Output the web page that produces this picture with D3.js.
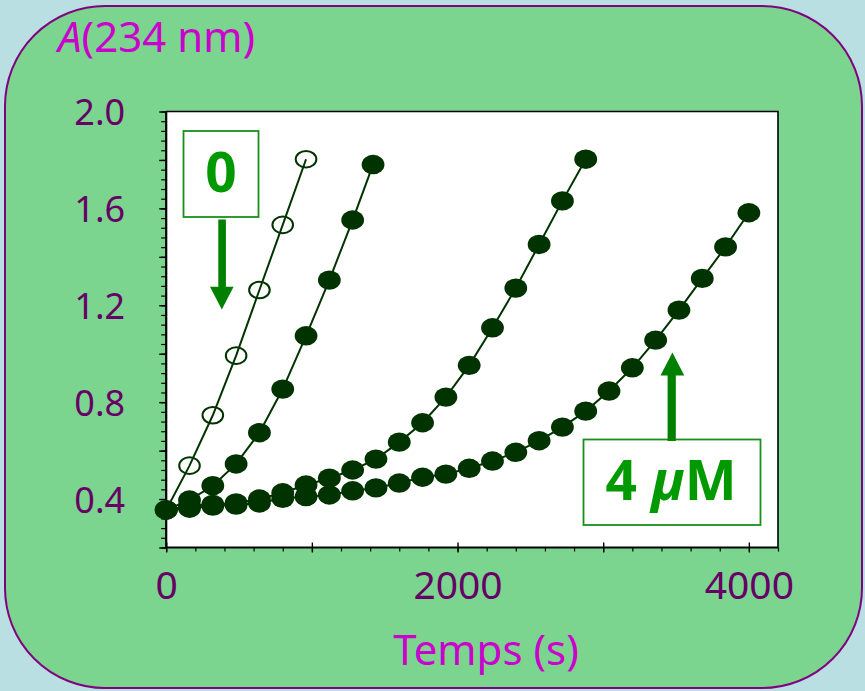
<!DOCTYPE html>
<html>
<head>
<meta charset="utf-8">
<script src="https://cdn.jsdelivr.net/npm/d3@7"></script>
<style>
  html, body { margin: 0; padding: 0; background: #b9dfe3; }
  svg { display: block; }
  text { font-family: "Noto Sans", "DejaVu Sans", sans-serif; }
</style>
</head>
<body>
<svg id="chart" width="865" height="691"></svg>
<script>
// ---- data ----
const seriesNames = ["0", "s2", "s3", "4 µM"];
const s1X = [0, 160, 320, 480, 640, 800, 960];
const s1Y = [0.355, 0.538, 0.746, 0.992, 1.263, 1.532, 1.803];
const s2X = [0, 160, 320, 480, 640, 800, 960, 1120, 1280, 1420];
const s2Y = [0.355, 0.396, 0.455, 0.545, 0.674, 0.854, 1.074, 1.304, 1.552, 1.781];
const s3X = [0, 160, 320, 480, 640, 800, 960, 1120, 1280, 1440, 1600, 1760, 1920, 2080, 2240, 2400, 2560, 2720, 2880];
const s3Y = [0.355, 0.372, 0.378, 0.384, 0.400, 0.426, 0.458, 0.486, 0.520, 0.565, 0.635, 0.715, 0.821, 0.952, 1.107, 1.271, 1.451, 1.631, 1.803];
const s4X = [0, 160, 320, 480, 640, 800, 960, 1120, 1280, 1440, 1600, 1760, 1920, 2080, 2240, 2400, 2560, 2720, 2880, 3040, 3200, 3360, 3520, 3680, 3840, 4000];
const s4Y = [0.355, 0.362, 0.371, 0.375, 0.384, 0.403, 0.410, 0.417, 0.434, 0.446, 0.466, 0.490, 0.503, 0.527, 0.557, 0.593, 0.641, 0.697, 0.763, 0.846, 0.942, 1.056, 1.180, 1.311, 1.441, 1.582];

const xTickLabels = [0, 2000, 4000];
const xMajorTicks = [0, 1000, 2000, 3000, 4000];
const yTickLabels = [0.4, 0.8, 1.2, 1.6, 2.0];
const yMajorTicks = [0.2, 0.4, 0.6, 0.8, 1.0, 1.2, 1.4, 1.6, 1.8, 2.0];

const titleY = "A(234 nm)";
const titleX = "Temps (s)";
const labelTop = "0";
const labelBottom = "4 µM";

// ---- layout ----
const svg = d3.select("#chart");
const W = 865, H = 691;
const L = 166.2, R = 778, T = 111.5, B = 547.5;

const x = d3.scaleLinear().domain([0, 4200]).range([L, R]);
const y = d3.scaleLinear().domain([0.2, 2.0]).range([B, T]);

// background panel
svg.append("rect").attr("x", 0).attr("y", 0).attr("width", W).attr("height", H).attr("fill", "#b9dfe3");
svg.append("rect")
  .attr("x", 5).attr("y", 6).attr("width", 857).attr("height", 682)
  .attr("rx", 100).attr("ry", 100)
  .attr("fill", "#7bd58f").attr("stroke", "#800080").attr("stroke-width", 2);

// plot area
svg.append("rect").attr("x", L).attr("y", T).attr("width", R - L).attr("height", B - T)
  .attr("fill", "#ffffff");
// top & right frame
svg.append("path")
  .attr("d", `M${L},${T}H${R}V${B}`)
  .attr("fill", "none").attr("stroke", "#000").attr("stroke-width", 1.6);

// ---- axes ----
// x minor ticks
const xMinor = d3.range(0, 4201, 200);
const gxMinor = svg.append("g").attr("transform", `translate(0,${B})`)
  .call(d3.axisBottom(x).tickValues(xMinor).tickSize(4).tickFormat(""));
gxMinor.select(".domain").remove();
gxMinor.selectAll("line").attr("stroke", "#000").attr("stroke-width", 1.2);

const gxMajor = svg.append("g").attr("transform", `translate(0,${B})`)
  .call(d3.axisBottom(x).tickValues(xMajorTicks).tickSize(5).tickFormat(""));
gxMajor.select(".domain").remove();
gxMajor.selectAll("line").attr("y1", -5).attr("stroke", "#000").attr("stroke-width", 1.4);

const gxLab = svg.append("g").attr("transform", `translate(0,${B})`)
  .call(d3.axisBottom(x).tickValues(xTickLabels).tickSize(0).tickPadding(24).tickFormat(d3.format("d")));
gxLab.select(".domain").remove();
gxLab.selectAll("text").attr("font-size", 39).attr("fill", "#660066")
  .attr("font-family", '"Noto Sans", sans-serif').attr("dy", "0.71em");

// y minor ticks
const yMinor = d3.range(0.2, 2.0001, 0.04);
const gyMinor = svg.append("g").attr("transform", `translate(${L},0)`)
  .call(d3.axisLeft(y).tickValues(yMinor).tickSize(5).tickFormat(""));
gyMinor.select(".domain").remove();
gyMinor.selectAll("line").attr("stroke", "#000").attr("stroke-width", 1.2);

const gyMajor = svg.append("g").attr("transform", `translate(${L},0)`)
  .call(d3.axisLeft(y).tickValues(yMajorTicks).tickSize(7).tickFormat(""));
gyMajor.select(".domain").remove();
gyMajor.selectAll("line").attr("stroke", "#000").attr("stroke-width", 1.4);

const gyLab = svg.append("g").attr("transform", `translate(${L},0)`)
  .call(d3.axisLeft(y).tickValues(yTickLabels).tickSize(0).tickPadding(41).tickFormat(d3.format(".1f")));
gyLab.select(".domain").remove();
gyLab.selectAll("text").attr("font-size", 36).attr("fill", "#660066")
  .attr("font-family", '"Noto Sans", sans-serif').attr("dy", "0.36em");

// axis lines
svg.append("path").attr("d", `M${L},${T}V${B}H${R}`)
  .attr("fill", "none").attr("stroke", "#000").attr("stroke-width", 2.2);

// ---- series ----
const MARK = "#003300";
const line = d3.line().x(d => x(d[0])).y(d => y(d[1]));
const zip = (xs, ys) => xs.map((v, i) => [v, ys[i]]);
const filled = [zip(s4X, s4Y), zip(s3X, s3Y), zip(s2X, s2Y)];
const open = zip(s1X, s1Y);

const gData = svg.append("g");
// open series line + markers
gData.append("path").attr("d", line(open)).attr("fill", "none").attr("stroke", MARK).attr("stroke-width", 2);
gData.selectAll("ellipse.open").data(open.slice(1)).join("ellipse").attr("class", "open")
  .attr("cx", d => x(d[0])).attr("cy", d => y(d[1]))
  .attr("rx", 10.3).attr("ry", 8.3)
  .attr("fill", "none").attr("stroke", MARK).attr("stroke-width", 2);

filled.forEach(s => {
  gData.append("path").attr("d", line(s)).attr("fill", "none").attr("stroke", MARK).attr("stroke-width", 2);
});
filled.forEach(s => {
  gData.append("g").selectAll("ellipse").data(s).join("ellipse")
    .attr("cx", d => x(d[0])).attr("cy", d => y(d[1]))
    .attr("rx", 11.4).attr("ry", 9.7)
    .attr("fill", MARK);
});

// ---- annotation boxes & arrows ----
const ARROW = "#008000";
const BOXSTROKE = "#1a8f1a";
const TXT = "#009900";

// "0" box
svg.append("rect").attr("x", 183.5).attr("y", 131).attr("width", 75).attr("height", 86)
  .attr("fill", "#fff").attr("stroke", BOXSTROKE).attr("stroke-width", 1.8);
svg.append("text").attr("x", 221).attr("y", 191.5).attr("text-anchor", "middle")
  .attr("font-size", 55).attr("font-weight", "bold").attr("fill", TXT).text(labelTop);
// down arrow
svg.append("rect").attr("x", 218.3).attr("y", 219.5).attr("width", 7.6).attr("height", 68).attr("fill", ARROW);
svg.append("path").attr("d", "M210,286.7 L233.6,286.7 L221.8,309.5 Z").attr("fill", ARROW);

// "4 µM" box
svg.append("rect").attr("x", 583.5).attr("y", 439.5).attr("width", 177).attr("height", 85.5)
  .attr("fill", "#fff").attr("stroke", BOXSTROKE).attr("stroke-width", 1.8);
const t4 = svg.append("text").attr("x", 671).attr("y", 500).attr("text-anchor", "middle")
  .attr("font-size", 55).attr("font-weight", "bold").attr("fill", TXT);
t4.append("tspan").text("4 ");
t4.append("tspan").attr("font-style", "italic").text("µ");
t4.append("tspan").text("M");
// up arrow
svg.append("rect").attr("x", 667.6).attr("y", 374).attr("width", 8.2).attr("height", 67).attr("fill", ARROW);
svg.append("path").attr("d", "M660.5,375.5 L684.3,375.5 L672.4,352.5 Z").attr("fill", ARROW);

// ---- titles ----
const ty = svg.append("text").attr("x", 58).attr("y", 52).attr("font-size", 42).attr("fill", "#cc00cc");
ty.append("tspan").attr("font-style", "italic").text("A");
ty.append("tspan").text("(234 nm)");

svg.append("text").attr("x", 486).attr("y", 665).attr("text-anchor", "middle")
  .attr("font-size", 42).attr("fill", "#cc00cc").text(titleX);
</script>
</body>
</html>
